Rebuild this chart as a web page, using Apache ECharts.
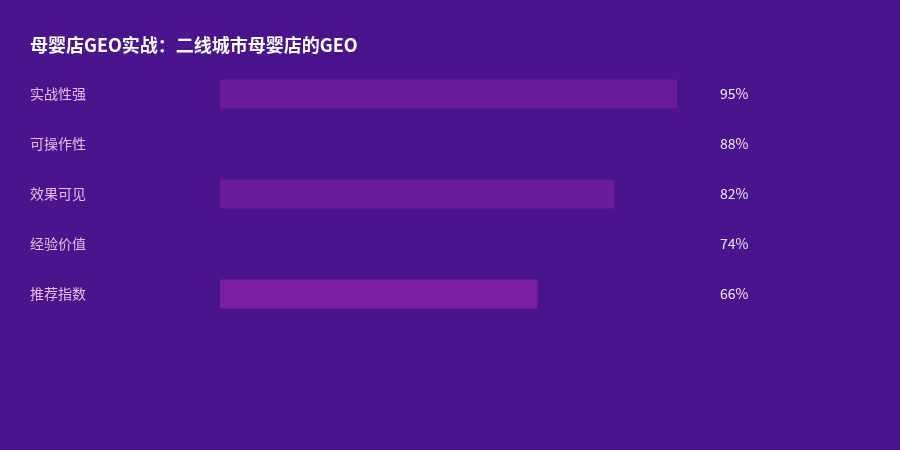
<!DOCTYPE html>
<html>
<head>
    <meta charset="utf-8">
    <title>母婴店GEO实战</title>
    <script src="https://cdn.jsdelivr.net/npm/echarts@6/dist/echarts.min.js"></script>
    <style>
        html, body { margin: 0; padding: 0; background: #4a148c; }
        #main { width: 900px; height: 450px; }
    </style>
</head>
<body>
    <div id="main"></div>
    <script>
        var myChart = echarts.init(document.getElementById('main'));

        // 数据
        const categories = ['实战性强', '可操作性', '效果可见', '经验价值', '推荐指数'];
        const values = [95, 88, 82, 74, 66];
        const barColors = ['#6a1b9a', '#4a148c', '#6a1b9a', '#4a148c', '#7b1fa2'];

        const option = {
            backgroundColor: '#4a148c',
            textStyle: { fontFamily: 'Noto Sans CJK SC' },
            title: {
                text: '母婴店GEO实战：二线城市母婴店的GEO',
                left: 25,
                top: 31,
                textStyle: {
                    color: '#ffffff',
                    fontSize: 18,
                    fontWeight: 'bold',
                    fontFamily: 'Noto Sans CJK SC'
                }
            },
            grid: {
                left: 220,
                right: 199,
                top: 69,
                bottom: 131
            },
            xAxis: {
                type: 'value',
                min: 0,
                max: 100,
                show: false
            },
            yAxis: [
                {
                    type: 'category',
                    data: categories,
                    inverse: true,
                    axisLine: { show: false },
                    axisTick: { show: false },
                    axisLabel: {
                        color: '#e1bee7',
                        fontSize: 14,
                        align: 'left',
                        margin: 190
                    }
                },
                {
                    type: 'category',
                    data: values.map(v => v + '%'),
                    inverse: true,
                    position: 'right',
                    axisLine: { show: false },
                    axisTick: { show: false },
                    axisLabel: {
                        color: '#f3e5f5',
                        fontSize: 14,
                        align: 'left',
                        margin: 19
                    }
                }
            ],
            series: [
                {
                    type: 'bar',
                    barWidth: 29,
                    data: values.map((v, i) => ({
                        value: v,
                        itemStyle: { color: barColors[i] }
                    }))
                }
            ]
        };

        myChart.setOption(option);
    </script>
</body>
</html>
